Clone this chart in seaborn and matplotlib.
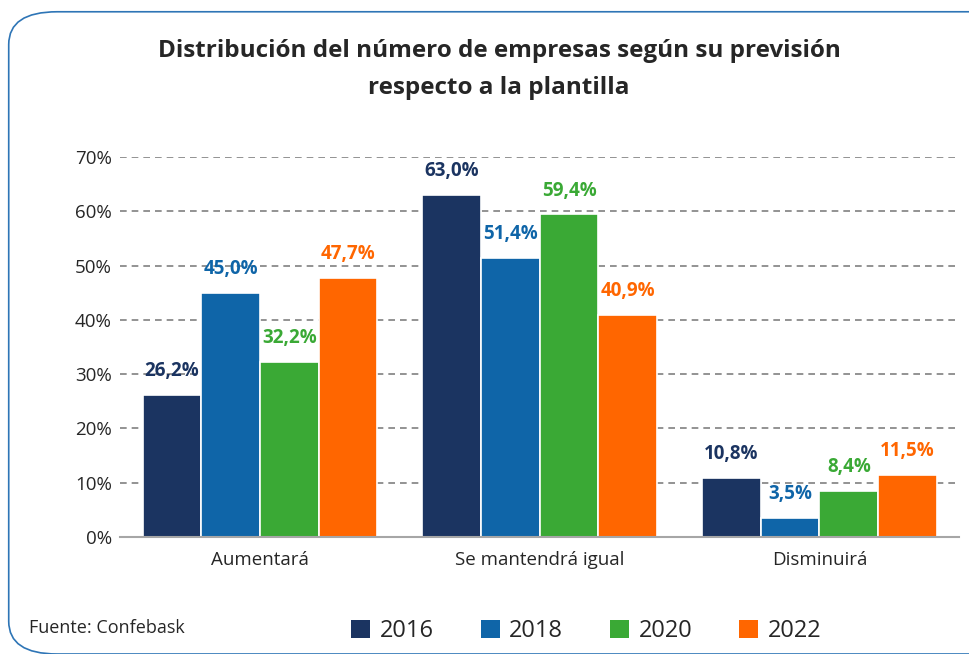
import pandas as pd
import matplotlib.pyplot as plt
import seaborn as sns
from matplotlib.patches import FancyBboxPatch, Patch

# Data
categories = ["Aumentará", "Se mantendrá igual", "Disminuirá"]
years = ["2016", "2018", "2020", "2022"]
v2016 = [26.2, 63.0, 10.8]
v2018 = [45.0, 51.4, 3.5]
v2020 = [32.2, 59.4, 8.4]
v2022 = [47.7, 40.9, 11.5]
colors = ["#1B3461", "#0F65A8", "#3AA935", "#FF6600"]

rows = []
for year, vals in zip(years, [v2016, v2018, v2020, v2022]):
    for cat, v in zip(categories, vals):
        rows.append({"Categoria": cat, "Año": year, "Valor": v})
df = pd.DataFrame(rows)

sns.set_style("white")
plt.rcParams["font.family"] = ["Open Sans", "DejaVu Sans"]

fig = plt.figure(figsize=(9.69, 6.54), dpi=100)
ax = fig.add_axes([0.124, 0.179, 0.866, 0.581])

sns.barplot(data=df, x="Categoria", y="Valor", hue="Año", palette=colors,
            saturation=1, width=0.84, edgecolor="white", linewidth=1.2,
            legend=False, ax=ax)

ax.set_ylim(0, 70)
ax.set_yticks(range(0, 71, 10))
ax.set_yticklabels([f"{t}%" for t in range(0, 71, 10)], fontsize=13.5)
ax.tick_params(axis="x", labelsize=13.5, length=0, pad=10)
ax.tick_params(axis="y", length=0, pad=6)
ax.set_xlabel("")
ax.set_ylabel("")
for t in range(10, 71, 10):
    ax.axhline(t, color="#808080", linestyle=(0, (4, 3)), linewidth=1.2, zorder=0)
for s in ["top", "right", "left"]:
    ax.spines[s].set_visible(False)
ax.spines["bottom"].set_color("#A6A6A6")
ax.spines["bottom"].set_linewidth(1.5)

for cont, col in zip(ax.containers, colors):
    labels = [f"{v:.1f}%".replace(".", ",") for v in cont.datavalues]
    ax.bar_label(cont, labels=labels, padding=10, color=col,
                 fontsize=13.5, fontweight="bold")

fig.text(0.515, 0.894, "Distribución del número de empresas según su previsión\nrespecto a la plantilla",
         ha="center", va="center", fontsize=17.5, fontweight="bold", linespacing=1.75)

fig.text(0.03, 0.04, "Fuente: Confebask", fontsize=13, ha="left", va="center")

handles = [Patch(facecolor=c, edgecolor="none") for c in colors]
fig.legend(handles, years, loc="center", bbox_to_anchor=(0.605, 0.035), ncol=4,
           frameon=False, fontsize=17, handlelength=0.8, handleheight=0.8,
           columnspacing=2.0, handletextpad=0.4)

border = FancyBboxPatch((0.009, 0.0), 1.2, 0.982 - 0.0,
                        boxstyle="round,pad=0,rounding_size=0.05",
                        transform=fig.transFigure, fill=False,
                        edgecolor="#2E75B6", linewidth=1.2, clip_on=False)
fig.patches.append(border)

fig.savefig("out.png", dpi=100)
